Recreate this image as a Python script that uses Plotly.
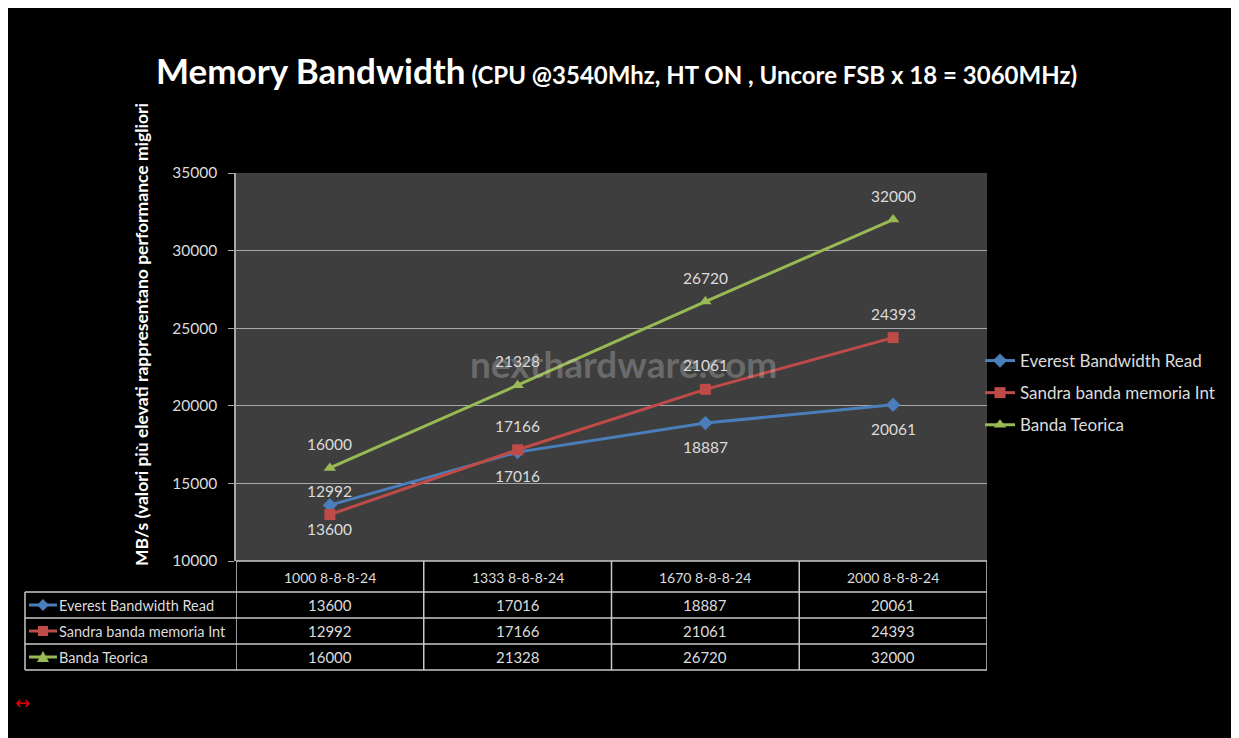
import plotly.graph_objects as go

categories = ["1000 8-8-8-24", "1333 8-8-8-24", "1670 8-8-8-24", "2000 8-8-8-24"]
series_names = ["Everest Bandwidth Read", "Sandra banda memoria Int", "Banda Teorica"]
everest = [13600, 17016, 18887, 20061]
sandra = [12992, 17166, 21061, 24393]
teorica = [16000, 21328, 26720, 32000]
y_ticks = [10000, 15000, 20000, 25000, 30000, 35000]

series = [everest, sandra, teorica]
colors = ["#4a7ebb", "#be4b48", "#98b954"]
symbols = ["diamond", "square", "triangle-up"]
marker_paths = [
    "M0,6 L6,0 L0,-6 L-6,0 Z",
    "M-5,-5 L5,-5 L5,5 L-5,5 Z",
    "M-6,-5 L6,-5 L0,6 Z",
]
label_shift = [-24, 24, 24]

OFF = 8               # page offset of the figure (body margin)
PW, PH = 1239, 738    # page size
W, H = PW - OFF, PH - OFF
L, R, T, B = 236, 987, 173, 561   # plot area in page pixels
pw, ph = R - L, B - T

def fx(px):
    return (px - L) / pw

def fy(py):
    return (B - py) / ph

font_family = "Lato, 'Open Sans', sans-serif"
txt_color = "#dcdcdc"

fig = go.Figure()
xs = list(range(len(categories)))
for name, vals, c, s in zip(series_names, series, colors, symbols):
    fig.add_trace(go.Scatter(
        x=xs, y=vals, name=name, mode="lines+markers",
        line=dict(color=c, width=3),
        marker=dict(symbol=s, size=11, color=c),
        legendgroup=name,
    ))

annotations = []
# data labels
for vals, sh in zip(series, label_shift):
    for i, v in enumerate(vals):
        annotations.append(dict(x=i, y=v, xref="x", yref="y", text=str(v),
                                showarrow=False, yshift=sh,
                                font=dict(size=15.5, color=txt_color, family=font_family)))

# title
annotations.append(dict(
    x=fx(154), y=fy(70), xref="paper", yref="paper", xanchor="left", yanchor="middle",
    showarrow=False,
    text="<b><span style='font-size:35px'>Memory Bandwidth</span>&nbsp;&nbsp;"
         "<span style='font-size:24px'>(CPU @3540Mhz, HT ON , Uncore FSB x 18 = 3060MHz)</span></b>",
    font=dict(color="white", family=font_family)))

# y axis title
annotations.append(dict(
    x=fx(141), y=fy(335), xref="paper", yref="paper", xanchor="center", yanchor="middle",
    textangle=-90, showarrow=False,
    text="<b>MB/s (valori più elevati rappresentano performance migliori</b>",
    font=dict(size=17.5, color="white", family=font_family)))

# watermark
annotations.append(dict(
    x=fx(623), y=fy(363), xref="paper", yref="paper", xanchor="center", yanchor="middle",
    showarrow=False, text="<b>nexthardware.com</b>",
    font=dict(size=37, color="rgba(205,205,205,0.33)", family=font_family)))

# red arrow glyph
annotations.append(dict(
    x=fx(22), y=fy(702), xref="paper", yref="paper", xanchor="center", yanchor="middle",
    showarrow=False, text="\u2194", font=dict(size=18, color="#e00000", family="DejaVu Sans")))

shapes = []
line_c = "#c8c8c8"

# table
row_lines = [592, 618, 644, 670]
for ry in row_lines:
    shapes.append(dict(type="line", xref="paper", yref="paper", x0=fx(25), x1=1, y0=fy(ry), y1=fy(ry),
                       line=dict(color=line_c, width=1.5)))
shapes.append(dict(type="line", xref="paper", yref="paper", x0=0, x1=1, y0=fy(561), y1=fy(561),
                   line=dict(color=line_c, width=1.5)))
shapes.append(dict(type="line", xref="paper", yref="paper", x0=fx(25), x1=fx(25), y0=fy(592), y1=fy(670),
                   line=dict(color=line_c, width=1.5)))
for k in range(len(categories) + 1):
    shapes.append(dict(type="line", xref="x", yref="paper", x0=k - 0.5, x1=k - 0.5, y0=fy(561), y1=fy(670),
                       line=dict(color=line_c, width=1.5)))

for i, cat in enumerate(categories):
    annotations.append(dict(x=i, y=fy(577), xref="x", yref="paper", xanchor="center", yanchor="middle",
                            showarrow=False, text=cat,
                            font=dict(size=14, color=txt_color, family=font_family)))

row_centers = [605, 631, 657]
for r, (name, vals, c, mp) in enumerate(zip(series_names, series, colors, marker_paths)):
    cy = row_centers[r]
    shapes.append(dict(type="line", xref="paper", yref="paper", x0=fx(29), x1=fx(57), y0=fy(cy), y1=fy(cy),
                       line=dict(color=c, width=3)))
    shapes.append(dict(type="path", xref="paper", yref="paper", xsizemode="pixel", ysizemode="pixel",
                       xanchor=fx(43), yanchor=fy(cy), path=mp, fillcolor=c, line=dict(width=0)))
    annotations.append(dict(x=fx(57), y=fy(cy), xref="paper", yref="paper", xanchor="left", yanchor="middle",
                            showarrow=False, text=name,
                            font=dict(size=14.5, color=txt_color, family=font_family)))
    for i, v in enumerate(vals):
        annotations.append(dict(x=i, y=fy(cy), xref="x", yref="paper", xanchor="center", yanchor="middle",
                                showarrow=False, text=str(v),
                                font=dict(size=15, color=txt_color, family=font_family)))

fig.update_layout(
    width=W, height=H,
    margin=dict(l=L - OFF, r=PW - R, t=T - OFF, b=PH - B, pad=0),
    paper_bgcolor="black", plot_bgcolor="#3e3e3e",
    font=dict(family=font_family, color=txt_color),
    showlegend=True,
    legend=dict(x=fx(980), y=fy(343), xanchor="left", yanchor="top",
                bgcolor="rgba(0,0,0,0)", font=dict(size=17, color=txt_color, family=font_family),
                traceorder="grouped", tracegroupgap=7, itemwidth=30),
    xaxis=dict(range=[-0.5, len(categories) - 0.5], showticklabels=False, showgrid=False,
               zeroline=False, showline=False, ticks=""),
    yaxis=dict(range=[y_ticks[0], y_ticks[-1]], tickvals=y_ticks, ticktext=[str(v) for v in y_ticks],
               showgrid=True, gridcolor="#a8a8a8", gridwidth=1, zeroline=False,
               showline=True, linecolor="#a8a8a8", linewidth=1.5,
               ticks="outside", ticklen=6, tickcolor="#a8a8a8", ticklabelstandoff=8,
               tickfont=dict(size=15.5, color=txt_color, family=font_family)),
    shapes=shapes, annotations=annotations,
)

fig.write_html("out.html")
